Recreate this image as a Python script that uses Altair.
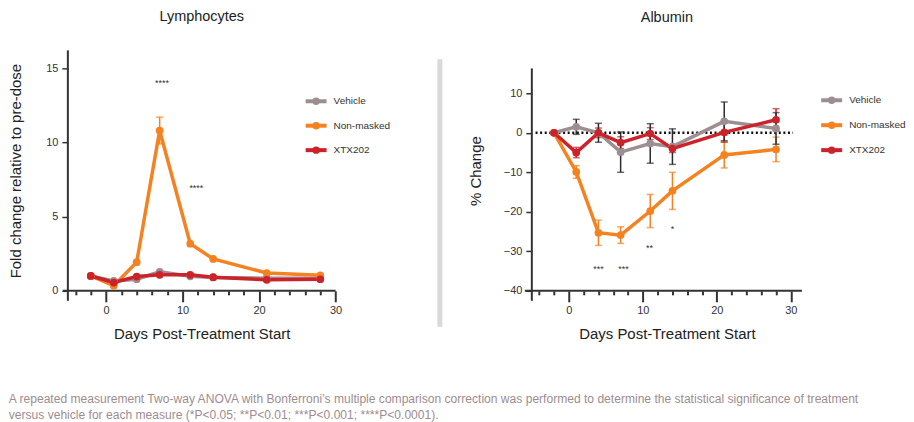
import altair as alt
import pandas as pd

FONT = "Liberation Sans"
INK = "#333333"

series = ["Vehicle", "Non-masked", "XTX202"]
colors = ["#9d8e91", "#f58220", "#cc2229"]
days = [-2, 1, 4, 7, 11, 14, 21, 28]

# Lymphocytes: fold change relative to pre-dose
lym_vehicle = [1.0, 0.67, 0.78, 1.28, 0.98, 0.90, 0.85, 0.85]
lym_nonmasked = [1.0, 0.35, 1.93, 10.8, 3.18, 2.15, 1.20, 1.05]
lym_xtx = [1.0, 0.56, 0.96, 1.08, 1.08, 0.92, 0.74, 0.78]
lym_err_vehicle = [0, 0, 0, 0, 0, 0, 0, 0]
lym_err_nonmasked = [0, 0, 0, 0.9, 0, 0, 0, 0]
lym_err_xtx = [0, 0, 0, 0, 0, 0, 0, 0]

# Albumin: % change
alb_vehicle = [0, 1.5, 0.0, -4.9, -2.7, -3.5, 2.9, 1.1]
alb_nonmasked = [0, -9.9, -25.3, -25.9, -19.8, -14.7, -5.6, -4.2]
alb_xtx = [0, -5.0, 0.0, -2.5, -0.2, -4.0, 0.1, 3.3]
alb_err_vehicle = [0, 1.9, 2.4, 5.1, 5.0, 4.5, 4.9, 4.0]
alb_err_nonmasked = [0, 1.6, 3.2, 2.1, 4.2, 4.7, 3.3, 3.1]
alb_err_xtx = [0, 1.3, 1.2, 1.5, 1.5, 1.0, 2.5, 2.8]

# significance annotations
lym_sig_day = [7.3, 11.8]
lym_sig_y = [14.0, 6.93]
lym_sig_text = ["****", "****"]
alb_sig_day = [4.0, 7.4, 10.9, 14.0]
alb_sig_y = [-34.4, -34.4, -29.1, -24.3]
alb_sig_text = ["***", "***", "**", "*"]

# dotted zero reference line (albumin)
alb_zero_days = [-4.5, 30.3]
alb_zero_vals = [0, 0]

footnote = [
    "A repeated measurement Two-way ANOVA with Bonferroni\u2019s multiple comparison correction was performed to determine the statistical significance of treatment",
    "versus vehicle for each measure (*P<0.05; **P<0.01; ***P<0.001; ****P<0.0001).",
]


def long_df(vals_list, errs_list):
    rows = []
    for s, vals, errs in zip(series, vals_list, errs_list):
        for d, v, e in zip(days, vals, errs):
            rows.append(dict(series=s, day=d, value=v, err=e, lo=v - e, hi=v + e))
    return pd.DataFrame(rows)


color_scale = alt.Scale(domain=series, range=colors)
ONE = pd.DataFrame({"a": [0]})


def legend_layers(x0, y0, step):
    out = []
    for i, (s, c) in enumerate(zip(series, colors)):
        yy = y0 + i * step
        out.append(alt.Chart(ONE).mark_rule(color=c, strokeWidth=4).encode(
            x=alt.value(x0), x2=alt.value(x0 + 21), y=alt.value(yy)))
        out.append(alt.Chart(ONE).mark_circle(color=c, size=55, opacity=1).encode(
            x=alt.value(x0 + 10.5), y=alt.value(yy)))
        out.append(alt.Chart(ONE).mark_text(
            align="left", baseline="middle", fontSize=10, color=INK, font=FONT).encode(
            x=alt.value(x0 + 28), y=alt.value(yy), text=alt.value(s)))
    return out


def panel(df, sig_df, title, ytitle, xdom, ydom, yvals, width, height,
          ytitle_pad, legend_pos, x_ext, axis_top=None, zero_df=None, divider=False):
    xax = alt.Axis(
        values=list(range(-4, 31, 2)),
        labelExpr="datum.value % 10 === 0 ? datum.label : ''",
        tickSize={"condition": {"test": "datum.value % 10 === 0", "value": 11}, "value": 4},
        tickWidth=2, tickColor=INK, domain=False,
        labelFlush=False, labelOverlap=False, labelPadding=3, grid=False,
        labelFontSize=11, labelColor=INK, titleFontSize=15, titleFontWeight="normal",
        titleColor="#222", titlePadding=11,
    )
    yax = alt.Axis(
        values=yvals, tickSize=6, tickWidth=1.5, tickColor=INK, domain=False,
        labelPadding=4, grid=False, labelFontSize=11, labelColor=INK,
        labelOverlap=False, titleFontSize=15, titleFontWeight="normal",
        titleColor="#222", titlePadding=ytitle_pad, labelFlush=False,
    )
    xs = alt.Scale(domain=xdom, nice=False, zero=False)
    ys = alt.Scale(domain=ydom, nice=False, zero=False)
    XT = "Days Post-Treatment Start"

    def X(f="day"):
        return alt.X(f"{f}:Q", scale=xs, axis=xax, title=XT)

    def Y(f):
        return alt.Y(f"{f}:Q", scale=ys, axis=yax, title=ytitle)

    base = alt.Chart(df)
    col = alt.Color("series:N", scale=color_scale, legend=None)

    err_other = base.transform_filter("datum.err > 0 && datum.series != 'Vehicle'")
    err_veh = base.transform_filter("datum.err > 0 && datum.series == 'Vehicle'")

    layers = []
    if divider:
        layers.append(alt.Chart(ONE).mark_rule(color="#d9d9d9", strokeWidth=5).encode(
            x=alt.value(372.8), y=alt.value(9), y2=alt.value(277)))

    # GraphPad-style axis lines (y-axis runs past the x-axis, x-axis past the y-axis)
    top_px = 0 if axis_top is None else height * (ydom[1] - axis_top) / (ydom[1] - ydom[0])
    layers.append(alt.Chart(ONE).mark_rule(color=INK, strokeWidth=2).encode(
        x=alt.value(0), y=alt.value(top_px), y2=alt.value(height + 10)))
    layers.append(alt.Chart(ONE).mark_rule(color=INK, strokeWidth=2).encode(
        x=alt.value(-x_ext), x2=alt.value(width), y=alt.value(height)))

    if zero_df is not None:
        layers.append(alt.Chart(zero_df).mark_line(
            color="#111", strokeWidth=2.5, strokeDash=[2, 2.6]).encode(
            x=X(), y=Y("value")))

    for src, c in ((err_other, col), (err_veh, alt.value("#2b2b2b"))):
        layers.append(src.mark_rule(strokeWidth=1.5).encode(
            x=X(), y=Y("lo"), y2="hi:Q", color=c))
        layers.append(src.transform_fold(["lo", "hi"], as_=["end", "v"]).mark_tick(
            orient="horizontal", size=7, thickness=1.5).encode(
            x=X(), y=Y("v"), color=c))

    layers.append(base.mark_line(strokeWidth=3.5).encode(
        x=X(), y=Y("value"), color=col, detail="series:N"))
    layers.append(base.mark_circle(size=60, opacity=1).encode(
        x=X(), y=Y("value"), color=col))
    layers.append(alt.Chart(sig_df).mark_text(
        fontSize=9, color=INK, baseline="middle", font=FONT).encode(
        x=X(), y=Y("y"), text="t:N"))
    layers.extend(legend_layers(*legend_pos))

    return alt.layer(*layers).properties(
        width=width, height=height,
        title=alt.TitleParams(title, fontSize=14.5, font=FONT, fontWeight="normal",
                              color="#222", offset=25),
    )


lym_df = long_df([lym_vehicle, lym_nonmasked, lym_xtx],
                 [lym_err_vehicle, lym_err_nonmasked, lym_err_xtx])
alb_df = long_df([alb_vehicle, alb_nonmasked, alb_xtx],
                 [alb_err_vehicle, alb_err_nonmasked, alb_err_xtx])
lym_sig = pd.DataFrame(dict(day=lym_sig_day, y=lym_sig_y, t=lym_sig_text))
alb_sig = pd.DataFrame(dict(day=alb_sig_day, y=alb_sig_y, t=alb_sig_text))
alb_zero = pd.DataFrame(dict(day=alb_zero_days, value=alb_zero_vals))

left = panel(lym_df, lym_sig, "Lymphocytes", "Fold change relative to pre-dose",
             [-5, 30], [0, 16.2], [0, 5, 10, 15], 268.3, 241, 22,
             (238.3, 51, 24.5), 5, divider=True)
right = panel(alb_df, alb_sig, "Albumin", "% Change",
              [-5, 31.5], [-40, 20.86], [-40, -30, -20, -10, 0, 10], 270.7, 241, 20,
              (290, 50, 25), 7, axis_top=16.3, zero_df=alb_zero)

chart = alt.hconcat(left, right, spacing=25).resolve_scale(color="independent").properties(
    padding=0,
    title=alt.TitleParams(footnote, orient="bottom", anchor="start", fontSize=12.1,
                          font=FONT, fontWeight="normal", color="#9e8c90",
                          offset=51, lineHeight=16),
).configure_view(stroke=None).configure_axis(
    labelFont=FONT, titleFont=FONT).configure_text(font=FONT)

chart.save("out.html", embed_options={"renderer": "svg", "actions": False})
